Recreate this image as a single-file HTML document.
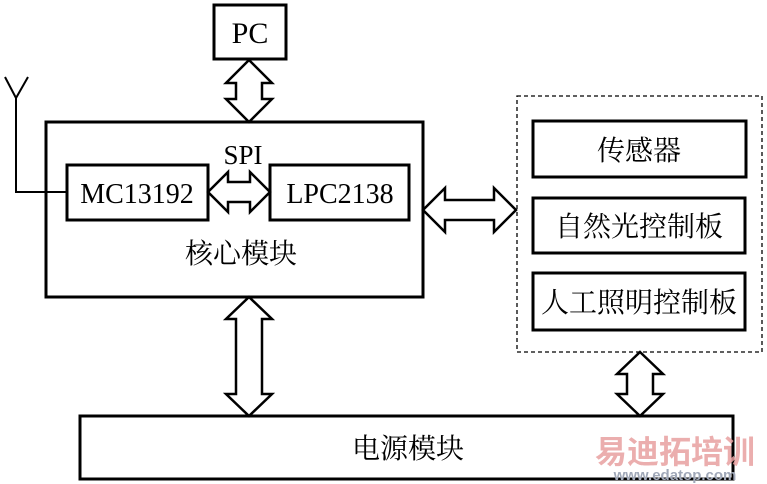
<!DOCTYPE html>
<html><head><meta charset="utf-8"><style>body{margin:0;background:#fff}</style></head><body>
<svg width="767" height="484" xmlns="http://www.w3.org/2000/svg" style="display:block">
<g fill="#fff" stroke="#000" stroke-width="3">
<rect x="214" y="5" width="72" height="54"/>
<rect x="46" y="122" width="377" height="175"/>
<rect x="67" y="165" width="141" height="55"/>
<rect x="270" y="165" width="139" height="55"/>
<rect x="533" y="121" width="213" height="56"/>
<rect x="533" y="198" width="212" height="55"/>
<rect x="533" y="273" width="212" height="57"/>
<rect x="80" y="416" width="653" height="63"/>
</g>
<rect x="517" y="96" width="245" height="256" fill="none" stroke="#000" stroke-width="1.3" stroke-dasharray="4,3"/>
<g fill="#fff" stroke="#000" stroke-width="2.5" stroke-linejoin="miter">
<polygon points="249,60 272,83 262,83 262,99 272,99 249,122 226,99 236,99 236,83 226,83"/>
<polygon points="249,297 272,319 262,319 262,394 272,394 249,416 226,394 236,394 236,319 226,319"/>
<polygon points="640,352 663,374 653,374 653,394 663,394 640,416 617,394 627,394 627,374 617,374"/>
<polygon points="423,210 445,188 445,200 494,200 494,188 516,210 494,232 494,220 445,220 445,232"/>
<polygon points="208,192 228,172 228,182 250,182 250,172 270,192 250,212 250,202 228,202 228,212"/>
</g>
<g fill="none" stroke="#000" stroke-width="2">
<polyline points="16,98 16,192 67,192"/>
<polyline points="5,77 16,98 28,77"/>
</g>
<g font-family="Liberation Serif, Noto Serif CJK SC, serif" fill="#000" text-anchor="middle">
<text x="250" y="43" font-size="30">PC</text>
<text x="243" y="164" font-size="27">SPI</text>
<text x="137" y="203" font-size="28">MC13192</text>
<text x="340" y="203" font-size="28">LPC2138</text>
<text x="241" y="263" font-size="28">核心模块</text>
<text x="639" y="160" font-size="28">传感器</text>
<text x="639" y="236" font-size="28">自然光控制板</text>
<text x="639" y="312" font-size="28">人工照明控制板</text>
<text x="408" y="458" font-size="28">电源模块</text>
</g>
<g font-family="Liberation Sans, Noto Sans CJK SC, sans-serif" font-weight="bold" text-anchor="middle">
<text x="675" y="463" font-size="32" fill="#e8a0a0" opacity="0.85">易迪拓培训</text>
<text x="675" y="480" font-size="15" fill="#a0a8b8">www.edatop.com</text>
</g>
</svg>
</body></html>
